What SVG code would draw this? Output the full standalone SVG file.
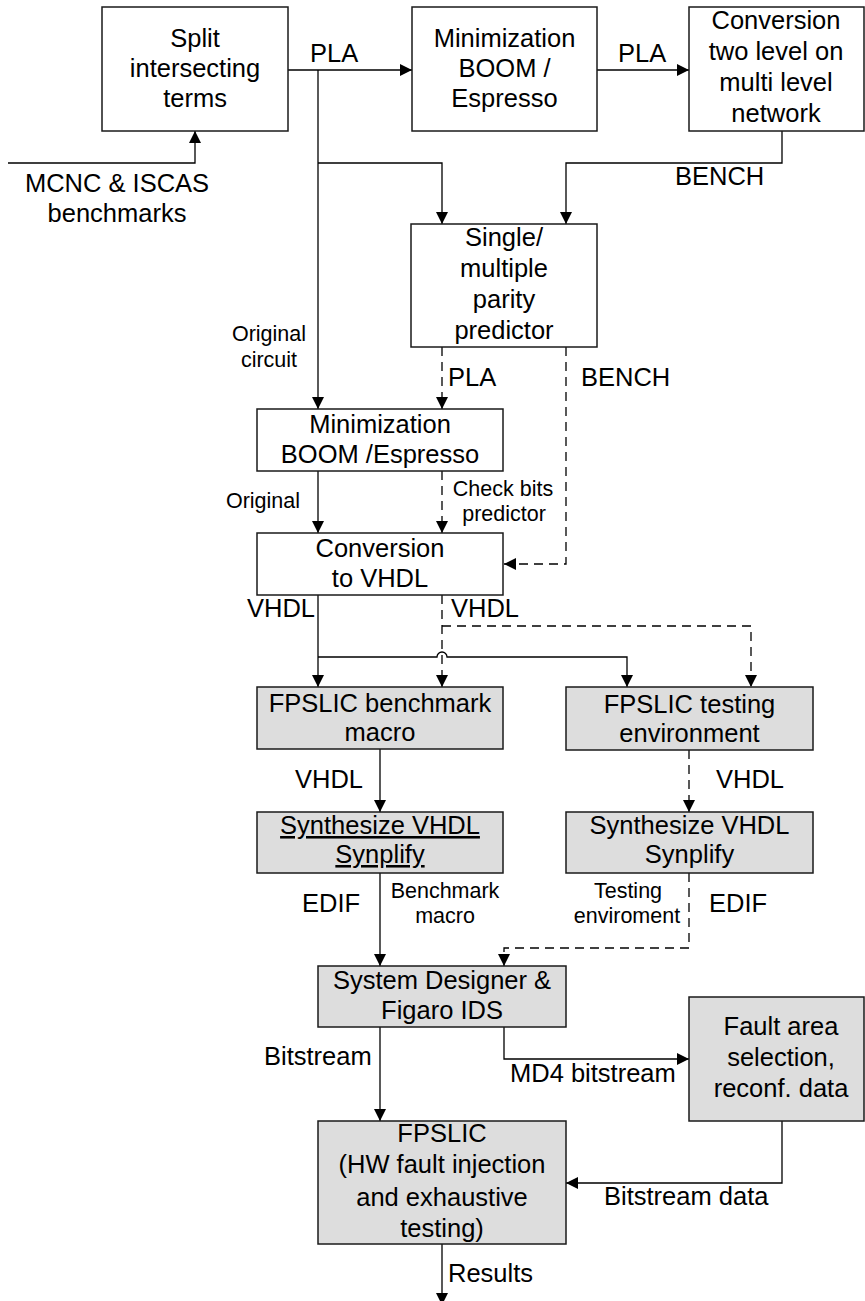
<svg xmlns="http://www.w3.org/2000/svg" width="865" height="1301" viewBox="0 0 865 1301">
  <style>
    .box { fill: #ffffff; stroke: #1a1a1a; stroke-width: 1.5; }
    .gbox { fill: #dddddd; stroke: #1a1a1a; stroke-width: 1.5; }
    .t { font-family: "Liberation Sans", Arial, sans-serif; font-size: 25.5px; fill: #000; text-anchor: middle; }
    .ts { font-family: "Liberation Sans", Arial, sans-serif; font-size: 21.5px; fill: #000; text-anchor: middle; }
    .l { font-family: "Liberation Sans", Arial, sans-serif; font-size: 25.5px; fill: #000; }
    .w { fill: none; stroke: #000; stroke-width: 1.3; }
    .d { fill: none; stroke: #000; stroke-width: 1.3; stroke-dasharray: 9 6; }
  </style>
  <defs>
    <marker id="arr" markerUnits="userSpaceOnUse" markerWidth="13" markerHeight="13" refX="12" refY="6" orient="auto">
      <path d="M0,0 L12,6 L0,12 z" fill="#000"/>
    </marker>
  </defs>

  <rect width="865" height="1301" fill="#ffffff"/>

  <!-- connectors -->
  <g id="connectors">
    <!-- split -> minimization -->
    <path class="w" d="M288,70 H412" marker-end="url(#arr)"/>
    <!-- minimization -> conversion two level -->
    <path class="w" d="M597,70 H689" marker-end="url(#arr)"/>
    <!-- benchmarks input -->
    <path class="w" d="M8,163 H195 V131" marker-end="url(#arr)"/>
    <!-- PLA branch down to second minimization -->
    <path class="w" d="M318,70 V409" marker-end="url(#arr)"/>
    <!-- PLA branch to parity predictor -->
    <path class="w" d="M318,163 H442 V224" marker-end="url(#arr)"/>
    <!-- BENCH from multi level network -->
    <path class="w" d="M782,131 V163 H566 V224" marker-end="url(#arr)"/>
    <!-- predictor PLA (dashed) -->
    <path class="d" d="M442,347 V409" marker-end="url(#arr)"/>
    <!-- predictor BENCH (dashed) -->
    <path class="d" d="M566,347 V564 H504" marker-end="url(#arr)"/>
    <!-- original -> conversion to VHDL -->
    <path class="w" d="M318,471 V533" marker-end="url(#arr)"/>
    <!-- check bits -> conversion to VHDL (dashed) -->
    <path class="d" d="M442,471 V533" marker-end="url(#arr)"/>
    <!-- VHDL original -->
    <path class="w" d="M318,595 V687" marker-end="url(#arr)"/>
    <path class="w" d="M318,657 H437 A5,5 0 0 1 447,657 H627 V687" marker-end="url(#arr)"/>
    <!-- VHDL predictor (dashed) -->
    <path class="d" d="M442,595 V687" marker-end="url(#arr)"/>
    <path class="d" d="M442,626 H751 V687" marker-end="url(#arr)"/>
    <!-- benchmark macro -> synthesize -->
    <path class="w" d="M380,749 V812" marker-end="url(#arr)"/>
    <!-- testing environment -> synthesize (dashed) -->
    <path class="d" d="M689,750 V812" marker-end="url(#arr)"/>
    <!-- EDIF benchmark macro -->
    <path class="w" d="M380,873 V966" marker-end="url(#arr)"/>
    <!-- EDIF testing environment (dashed) -->
    <path class="d" d="M689,873 V948 H504 V966" marker-end="url(#arr)"/>
    <!-- bitstream -->
    <path class="w" d="M380,1027 V1121" marker-end="url(#arr)"/>
    <!-- MD4 bitstream -->
    <path class="w" d="M504,1027 V1059 H689" marker-end="url(#arr)"/>
    <!-- bitstream data -->
    <path class="w" d="M782,1121 V1183 H566" marker-end="url(#arr)"/>
    <!-- results -->
    <path class="w" d="M442,1244 V1305" marker-end="url(#arr)"/>
  </g>

  <!-- connector labels -->
  <g id="labels">
    <text class="l" x="310" y="62">PLA</text>
    <text class="l" x="618" y="62">PLA</text>
    <text class="l" x="675" y="185">BENCH</text>
    <text class="t" x="117" y="192">MCNC &amp; ISCAS</text>
    <text class="t" x="117" y="222">benchmarks</text>
    <text class="ts" x="269" y="341">Original</text>
    <text class="ts" x="269" y="367">circuit</text>
    <text class="l" x="448" y="386">PLA</text>
    <text class="l" x="581" y="386">BENCH</text>
    <text class="ts" x="263" y="508">Original</text>
    <text class="ts" x="503" y="496">Check bits</text>
    <text class="ts" x="504" y="521">predictor</text>
    <text class="l" x="247" y="617">VHDL</text>
    <text class="l" x="451" y="617">VHDL</text>
    <text class="l" x="295" y="788">VHDL</text>
    <text class="l" x="716" y="788">VHDL</text>
    <text class="l" x="302" y="912">EDIF</text>
    <text class="ts" x="445" y="898">Benchmark</text>
    <text class="ts" x="445" y="923">macro</text>
    <text class="ts" x="628" y="898">Testing</text>
    <text class="ts" x="627" y="923">enviroment</text>
    <text class="l" x="709" y="912">EDIF</text>
    <text class="l" x="264" y="1065">Bitstream</text>
    <text class="l" x="510" y="1082">MD4 bitstream</text>
    <text class="l" x="604" y="1205">Bitstream data</text>
    <text class="l" x="448" y="1282">Results</text>
  </g>

  <!-- nodes -->
  <g id="split">
    <rect class="box" x="102" y="7" width="186" height="124"/>
    <text class="t" x="195" y="47">Split</text>
    <text class="t" x="195" y="77">intersecting</text>
    <text class="t" x="195" y="107">terms</text>
  </g>

  <g id="minimization1">
    <rect class="box" x="412" y="7" width="185" height="124"/>
    <text class="t" x="504.5" y="47">Minimization</text>
    <text class="t" x="504.5" y="77">BOOM /</text>
    <text class="t" x="504.5" y="107">Espresso</text>
  </g>

  <g id="multilevel">
    <rect class="box" x="689" y="7" width="175" height="124"/>
    <text class="t" x="776" y="29">Conversion</text>
    <text class="t" x="776" y="60">two level on</text>
    <text class="t" x="776" y="91">multi level</text>
    <text class="t" x="776" y="122">network</text>
  </g>

  <g id="parity">
    <rect class="box" x="411" y="224" width="186" height="123"/>
    <text class="t" x="504" y="246">Single/</text>
    <text class="t" x="504" y="277">multiple</text>
    <text class="t" x="504" y="308">parity</text>
    <text class="t" x="504" y="339">predictor</text>
  </g>

  <g id="minimization2">
    <rect class="box" x="257" y="409" width="246" height="62"/>
    <text class="t" x="380" y="433">Minimization</text>
    <text class="t" x="380" y="463">BOOM /Espresso</text>
  </g>

  <g id="tovhdl">
    <rect class="box" x="257" y="533" width="246" height="62"/>
    <text class="t" x="380" y="557">Conversion</text>
    <text class="t" x="380" y="587">to VHDL</text>
  </g>

  <g id="benchmark-macro">
    <rect class="gbox" x="257" y="687" width="246" height="62"/>
    <text class="t" x="380" y="712">FPSLIC benchmark</text>
    <text class="t" x="380" y="741">macro</text>
  </g>

  <g id="testing-env">
    <rect class="gbox" x="566" y="687" width="247" height="63"/>
    <text class="t" x="689.5" y="713">FPSLIC testing</text>
    <text class="t" x="689.5" y="742">environment</text>
  </g>

  <g id="synth1">
    <rect class="gbox" x="257" y="812" width="246" height="61"/>
    <text class="t" x="380" y="834" text-decoration="underline">Synthesize VHDL</text>
    <text class="t" x="380" y="863" text-decoration="underline">Synplify</text>
  </g>

  <g id="synth2">
    <rect class="gbox" x="566" y="812" width="247" height="61"/>
    <text class="t" x="689.5" y="834">Synthesize VHDL</text>
    <text class="t" x="689.5" y="863">Synplify</text>
  </g>

  <g id="system-designer">
    <rect class="gbox" x="318" y="966" width="248" height="61"/>
    <text class="t" x="442" y="989">System Designer &amp;</text>
    <text class="t" x="442" y="1019">Figaro IDS</text>
  </g>

  <g id="fault-area">
    <rect class="gbox" x="689" y="997" width="175" height="124"/>
    <text class="t" x="781" y="1035">Fault area</text>
    <text class="t" x="781" y="1066">selection,</text>
    <text class="t" x="781" y="1097">reconf. data</text>
  </g>

  <g id="fpslic">
    <rect class="gbox" x="318" y="1121" width="248" height="123"/>
    <text class="t" x="442" y="1142">FPSLIC</text>
    <text class="t" x="442" y="1173">(HW fault injection</text>
    <text class="t" x="442" y="1206">and exhaustive</text>
    <text class="t" x="442" y="1237">testing)</text>
  </g>
</svg>
